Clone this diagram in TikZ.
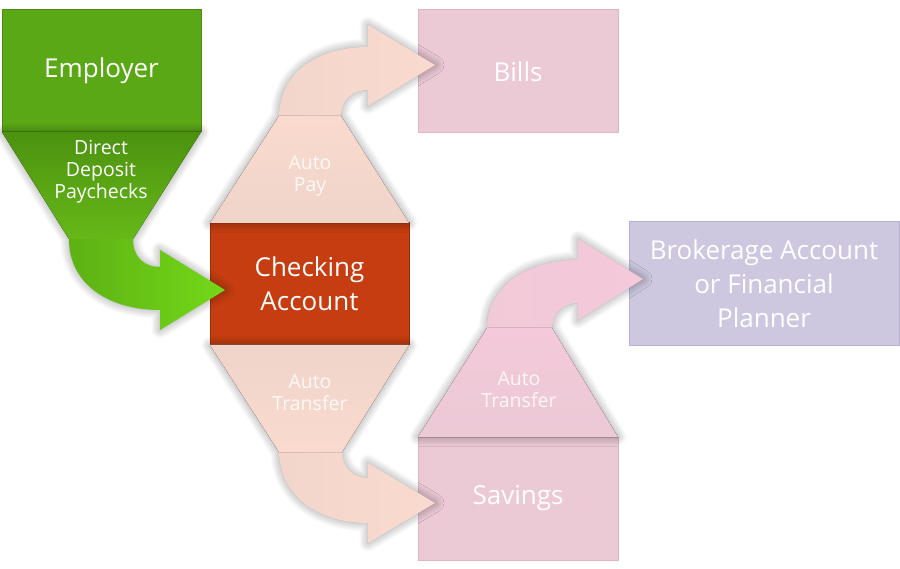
\documentclass[tikz,border=0pt]{standalone}
\usepackage{fontspec}
\setmainfont{Open Sans}
\usetikzlibrary{shadows.blur}

\definecolor{empgreen}{HTML}{5AA815}
\definecolor{empedge}{HTML}{4A8C10}
\definecolor{funnelgreen}{HTML}{4C9210}
\definecolor{funnelgreenB}{HTML}{66B818}
\definecolor{arrowgreen}{HTML}{52A012}
\definecolor{arrowgreenB}{HTML}{74D818}
\definecolor{checkred}{HTML}{C53D10}
\definecolor{checkedge}{HTML}{9C2E08}
\definecolor{peach}{HTML}{EFD4CA}
\definecolor{peachB}{HTML}{FADACE}
\definecolor{pinkbox}{HTML}{EBC9D5}
\definecolor{pinkedge}{HTML}{DDB6C4}
\definecolor{pinkflow}{HTML}{F0CAD8}
\definecolor{pinkflowB}{HTML}{F4C9D9}
\definecolor{lavender}{HTML}{CDC8E0}
\definecolor{lavedge}{HTML}{B8B2D2}

\tikzset{
    box/.style={rectangle, draw, line width=1pt, inner sep=0pt, outer sep=0pt,
        align=center, text=white, font=\fontsize{26}{34}\selectfont},
    flowtext/.style={align=center, text=white, font=\fontsize{19.5}{22}\selectfont},
    flowshadow/.style={blur shadow={shadow xshift=0pt, shadow yshift=0pt,
        shadow blur radius=9pt, shadow blur steps=12, shadow opacity=40}},
}

\begin{document}
\begin{tikzpicture}[x=1pt, y=-1pt]
    \useasboundingbox (0,0) rectangle (900,569);

    % Boxes
    \node[box, fill=empgreen, draw=empedge, minimum width=199pt, minimum height=122pt] (employer) at (101.5,71) {Employer};
    \node[box, fill=checkred, draw=checkedge, minimum width=199pt, minimum height=122pt] (checking) at (309.5,284) {Checking\\Account};
    \node[box, fill=pinkbox, draw=pinkedge, minimum width=200pt, minimum height=123pt] (bills) at (518,71.5) {Bills};
    \node[box, fill=pinkbox, draw=pinkedge, minimum width=200pt, minimum height=123pt] (savings) at (518,498.5) {Savings};
    \node[box, fill=lavender, draw=lavedge, minimum width=270pt, minimum height=124pt] (broker) at (764,284) {Brokerage Account\\or Financial\\Planner};

    % Employer -> Checking
    \path[flowshadow, left color=arrowgreen, right color=arrowgreenB]
        (employer.south west) -- (employer.south east) -- (133,239)
        .. controls (133,258) and (145,267) .. (160,267)
        -- (160,250) -- (225,290) -- (160,330) -- (160,310)
        .. controls (110,310) and (69,285) .. (69,239) -- cycle;
    \fill[top color=funnelgreen, bottom color=funnelgreenB]
        (employer.south west) -- (employer.south east) -- (133,239) -- (69,239) -- cycle;
    \node[flowtext] (deposit) at (101,172) {Direct\\Deposit\\Paychecks};

    % Checking -> Bills
    \path[flowshadow, left color=peach, right color=peachB]
        (checking.north west) -- (279,116)
        .. controls (280,72) and (318,47) .. (368,47)
        -- (368,25) -- (435,65) -- (368,106) -- (368,90)
        .. controls (352,90) and (341,100) .. (341,116)
        -- (checking.north east) -- cycle;
    \fill[top color=peachB, bottom color=peach]
        (checking.north west) -- (279,116) -- (341,116) -- (checking.north east) -- cycle;
    \node[flowtext, text opacity=0.85] (autopay) at (310,176) {Auto\\Pay};

    % Checking -> Savings
    \path[flowshadow, left color=peach, right color=peachB]
        (checking.south west) -- (279,452)
        .. controls (280,496) and (318,523) .. (368,523)
        -- (368,543) -- (435,503) -- (368,463) -- (368,478)
        .. controls (352,478) and (342,466) .. (342,452)
        -- (checking.south east) -- cycle;
    \fill[top color=peach, bottom color=peachB]
        (checking.south west) -- (279,452) -- (342,452) -- (checking.south east) -- cycle;
    \node[flowtext, text opacity=0.85] (autotransfer) at (310,393) {Auto\\Transfer};

    % Savings -> Brokerage
    \path[flowshadow, left color=pinkflow, right color=pinkflowB]
        (savings.north west) -- (487,328)
        .. controls (488,285) and (528,260) .. (578,260)
        -- (578,239) -- (643,279) -- (578,320) -- (578,303)
        .. controls (562,303) and (552,314) .. (552,328)
        -- (savings.north east) -- cycle;
    \fill[top color=pinkflowB, bottom color=pinkbox]
        (savings.north west) -- (487,328) -- (552,328) -- (savings.north east) -- cycle;
    \node[flowtext, text opacity=0.85] (autosave) at (519,390) {Auto\\Transfer};
\end{tikzpicture}
\end{document}
